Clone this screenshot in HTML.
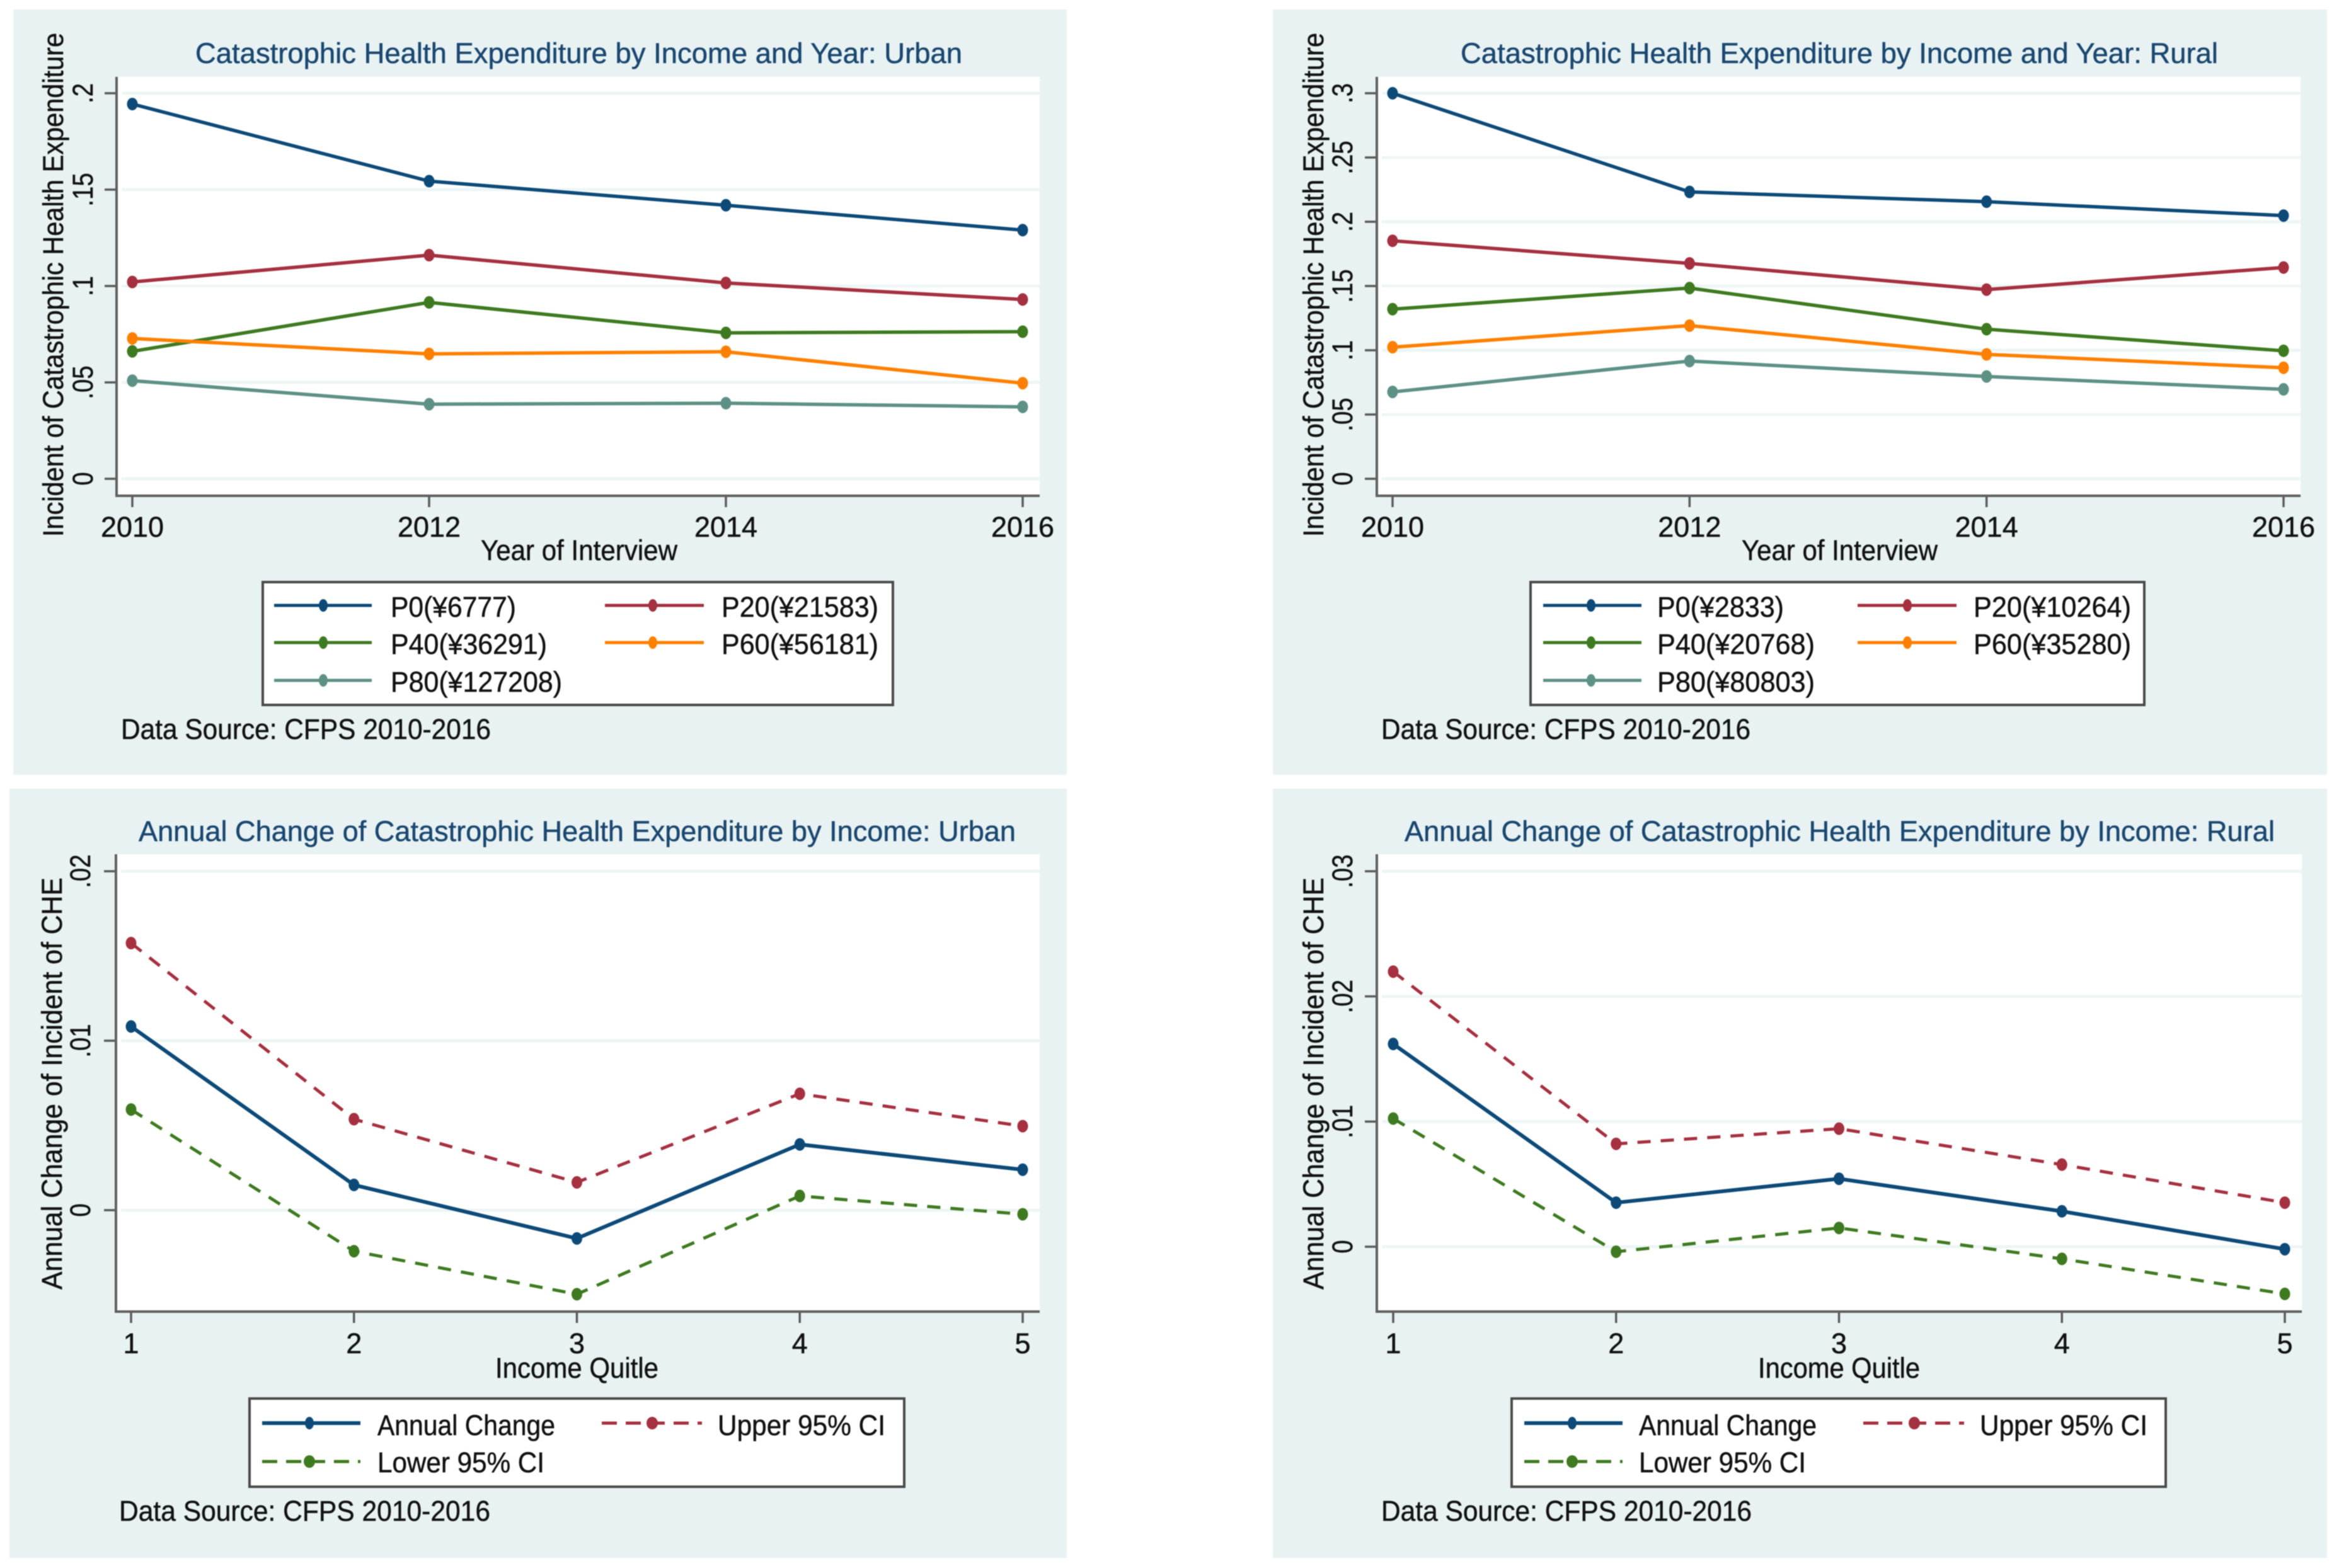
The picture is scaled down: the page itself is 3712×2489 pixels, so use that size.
<!DOCTYPE html>
<html lang="en">
<head>
<meta charset="utf-8">
<title>Catastrophic Health Expenditure by Income</title>
<style>
html,body{margin:0;padding:0;background:#fff;width:3712px;height:2489px;overflow:hidden}
svg{display:block;filter:blur(.7px)}
text{font-family:"Liberation Sans",Arial,sans-serif;font-size:45px;fill:#111;stroke:#111;stroke-width:.5px}
.title{fill:#1a476f;stroke:#1a476f}
.legend-box{fill:#fff;stroke:#4a4a4a;stroke-width:4}
.panel{fill:#e8f2f3}
.plot{fill:#fff}
</style>
</head>
<body>
<svg xmlns="http://www.w3.org/2000/svg" width="3712" height="2489" viewBox="0 0 3712 2489">
<rect width="3712" height="2489" fill="#fff"/>

<g id="urban-incidence">
  <rect class="panel" x="21" y="15" width="1672" height="1215"/>
  <rect class="plot" x="185" y="122" width="1465" height="665"/>
  <text class="title" x="310" y="100" textLength="1217" lengthAdjust="spacingAndGlyphs">Catastrophic Health Expenditure by Income and Year: Urban</text>
  <text transform="translate(100,852) rotate(-90)" textLength="800" lengthAdjust="spacingAndGlyphs">Incident of Catastrophic Health Expenditure</text>
  <text x="763" y="889" textLength="312" lengthAdjust="spacingAndGlyphs">Year of Interview</text>
  <g class="chart"></g>
  <g>
    <rect class="legend-box" x="417" y="924" width="1000" height="195"/>
    <g><line x1="435" x2="590" y1="961" y2="961" stroke="#0d4a78" stroke-width="5"/><ellipse cx="513" cy="961" rx="7" ry="10" fill="#0d4a78"/><text x="620" y="979" textLength="199" lengthAdjust="spacingAndGlyphs">P0(¥6777)</text></g>
    <g><line x1="960" x2="1117" y1="961" y2="961" stroke="#a5303f" stroke-width="5"/><ellipse cx="1036" cy="961" rx="7" ry="10" fill="#a5303f"/><text x="1145" y="979" textLength="249" lengthAdjust="spacingAndGlyphs">P20(¥21583)</text></g>
    <g><line x1="435" x2="590" y1="1020" y2="1020" stroke="#3e7a20" stroke-width="5"/><ellipse cx="513" cy="1020" rx="7" ry="10" fill="#3e7a20"/><text x="620" y="1038" textLength="248" lengthAdjust="spacingAndGlyphs">P40(¥36291)</text></g>
    <g><line x1="960" x2="1117" y1="1020" y2="1020" stroke="#ff8000" stroke-width="5"/><ellipse cx="1036" cy="1020" rx="7" ry="10" fill="#ff8000"/><text x="1145" y="1038" textLength="249" lengthAdjust="spacingAndGlyphs">P60(¥56181)</text></g>
    <g><line x1="435" x2="590" y1="1080" y2="1080" stroke="#5e9186" stroke-width="5"/><ellipse cx="513" cy="1080" rx="7" ry="10" fill="#5e9186"/><text x="620" y="1098" textLength="272" lengthAdjust="spacingAndGlyphs">P80(¥127208)</text></g>
  </g>
  <text x="192" y="1173" textLength="587" lengthAdjust="spacingAndGlyphs">Data Source: CFPS 2010-2016</text>
</g>

<g id="rural-incidence">
  <rect class="panel" x="2020" y="15" width="1673" height="1215"/>
  <rect class="plot" x="2185" y="122" width="1466" height="665"/>
  <text class="title" x="2318" y="100" textLength="1202" lengthAdjust="spacingAndGlyphs">Catastrophic Health Expenditure by Income and Year: Rural</text>
  <text transform="translate(2100,852) rotate(-90)" textLength="800" lengthAdjust="spacingAndGlyphs">Incident of Catastrophic Health Expenditure</text>
  <text x="2764" y="889" textLength="311" lengthAdjust="spacingAndGlyphs">Year of Interview</text>
  <g class="chart"></g>
  <g>
    <rect class="legend-box" x="2429" y="924" width="974" height="195"/>
    <g><line x1="2449" x2="2605" y1="961" y2="961" stroke="#0d4a78" stroke-width="5"/><ellipse cx="2525" cy="961" rx="7" ry="10" fill="#0d4a78"/><text x="2630" y="979" textLength="201" lengthAdjust="spacingAndGlyphs">P0(¥2833)</text></g>
    <g><line x1="2948" x2="3105" y1="961" y2="961" stroke="#a5303f" stroke-width="5"/><ellipse cx="3027" cy="961" rx="7" ry="10" fill="#a5303f"/><text x="3132" y="979" textLength="250" lengthAdjust="spacingAndGlyphs">P20(¥10264)</text></g>
    <g><line x1="2449" x2="2605" y1="1020" y2="1020" stroke="#3e7a20" stroke-width="5"/><ellipse cx="2525" cy="1020" rx="7" ry="10" fill="#3e7a20"/><text x="2630" y="1038" textLength="250" lengthAdjust="spacingAndGlyphs">P40(¥20768)</text></g>
    <g><line x1="2948" x2="3105" y1="1020" y2="1020" stroke="#ff8000" stroke-width="5"/><ellipse cx="3027" cy="1020" rx="7" ry="10" fill="#ff8000"/><text x="3132" y="1038" textLength="250" lengthAdjust="spacingAndGlyphs">P60(¥35280)</text></g>
    <g><line x1="2449" x2="2605" y1="1080" y2="1080" stroke="#5e9186" stroke-width="5"/><ellipse cx="2525" cy="1080" rx="7" ry="10" fill="#5e9186"/><text x="2630" y="1098" textLength="250" lengthAdjust="spacingAndGlyphs">P80(¥80803)</text></g>
  </g>
  <text x="2192" y="1173" textLength="586" lengthAdjust="spacingAndGlyphs">Data Source: CFPS 2010-2016</text>
</g>

<g id="urban-change">
  <rect class="panel" x="15" y="1252" width="1678" height="1221"/>
  <rect class="plot" x="184" y="1356" width="1466" height="726"/>
  <text class="title" x="220" y="1335" textLength="1392" lengthAdjust="spacingAndGlyphs">Annual Change of Catastrophic Health Expenditure by Income: Urban</text>
  <text transform="translate(98,2047) rotate(-90)" textLength="654" lengthAdjust="spacingAndGlyphs">Annual Change of Incident of CHE</text>
  <text x="786" y="2187" textLength="259" lengthAdjust="spacingAndGlyphs">Income Quitle</text>
  <g class="chart"></g>
  <g>
    <rect class="legend-box" x="396" y="2220" width="1039" height="140"/>
    <g><line x1="416" x2="572" y1="2259" y2="2259" stroke="#0d4a78" stroke-width="6"/><ellipse cx="491" cy="2259" rx="7" ry="10" fill="#0d4a78"/><text x="599" y="2278" textLength="282" lengthAdjust="spacingAndGlyphs">Annual Change</text></g>
    <g><line x1="955" x2="1114" y1="2259" y2="2259" stroke="#a5303f" stroke-width="5" stroke-dasharray="24 14"/><ellipse cx="1035" cy="2259" rx="9" ry="10" fill="#a5303f"/><text x="1139" y="2278" textLength="266" lengthAdjust="spacingAndGlyphs">Upper 95% CI</text></g>
    <g><line x1="416" x2="572" y1="2320" y2="2320" stroke="#3e7a20" stroke-width="5" stroke-dasharray="24 14"/><ellipse cx="491" cy="2320" rx="9" ry="10" fill="#3e7a20"/><text x="599" y="2337" textLength="265" lengthAdjust="spacingAndGlyphs">Lower 95% CI</text></g>
  </g>
  <text x="189" y="2414" textLength="589" lengthAdjust="spacingAndGlyphs">Data Source: CFPS 2010-2016</text>
</g>

<g id="rural-change">
  <rect class="panel" x="2020" y="1252" width="1673" height="1221"/>
  <rect class="plot" x="2185" y="1356" width="1468" height="726"/>
  <text class="title" x="2229" y="1335" textLength="1381" lengthAdjust="spacingAndGlyphs">Annual Change of Catastrophic Health Expenditure by Income: Rural</text>
  <text transform="translate(2100,2047) rotate(-90)" textLength="654" lengthAdjust="spacingAndGlyphs">Annual Change of Incident of CHE</text>
  <text x="2790" y="2187" textLength="257" lengthAdjust="spacingAndGlyphs">Income Quitle</text>
  <g class="chart"></g>
  <g>
    <rect class="legend-box" x="2399" y="2220" width="1038" height="140"/>
    <g><line x1="2419" x2="2575" y1="2259" y2="2259" stroke="#0d4a78" stroke-width="6"/><ellipse cx="2495" cy="2259" rx="7" ry="10" fill="#0d4a78"/><text x="2601" y="2278" textLength="282" lengthAdjust="spacingAndGlyphs">Annual Change</text></g>
    <g><line x1="2957" x2="3117" y1="2259" y2="2259" stroke="#a5303f" stroke-width="5" stroke-dasharray="24 14"/><ellipse cx="3038" cy="2259" rx="9" ry="10" fill="#a5303f"/><text x="3142" y="2278" textLength="266" lengthAdjust="spacingAndGlyphs">Upper 95% CI</text></g>
    <g><line x1="2419" x2="2575" y1="2320" y2="2320" stroke="#3e7a20" stroke-width="5" stroke-dasharray="24 14"/><ellipse cx="2495" cy="2320" rx="9" ry="10" fill="#3e7a20"/><text x="2601" y="2337" textLength="265" lengthAdjust="spacingAndGlyphs">Lower 95% CI</text></g>
  </g>
  <text x="2192" y="2414" textLength="588" lengthAdjust="spacingAndGlyphs">Data Source: CFPS 2010-2016</text>
</g>
</svg>

<script>
// Categories
const years = [2010, 2012, 2014, 2016];
const quintiles = [1, 2, 3, 4, 5];

// Urban incidence series
const urbanP0 = [0.1944, 0.1544, 0.1419, 0.1290];
const urbanP20 = [0.1021, 0.1160, 0.1016, 0.0930];
const urbanP40 = [0.0661, 0.0915, 0.0757, 0.0763];
const urbanP60 = [0.0728, 0.0648, 0.0659, 0.0496];
const urbanP80 = [0.0509, 0.0387, 0.0392, 0.0373];

// Rural incidence series
const ruralP0 = [0.3000, 0.2232, 0.2156, 0.2048];
const ruralP20 = [0.1852, 0.1676, 0.1472, 0.1644];
const ruralP40 = [0.1320, 0.1484, 0.1164, 0.0996];
const ruralP60 = [0.1024, 0.1192, 0.0968, 0.0864];
const ruralP80 = [0.0676, 0.0916, 0.0796, 0.0696];

// Urban annual change series
const urbanAnnual = [0.01084, 0.00149, -0.00167, 0.00388, 0.00239];
const urbanUpper = [0.01576, 0.00537, 0.00164, 0.00687, 0.00496];
const urbanLower = [0.00594, -0.00242, -0.00496, 0.00084, -0.00024];

// Rural annual change series
const ruralAnnual = [0.01620, 0.00352, 0.00543, 0.00283, -0.00020];
const ruralUpper = [0.02198, 0.00822, 0.00943, 0.00656, 0.00352];
const ruralLower = [0.01024, -0.00040, 0.00150, -0.00097, -0.00377];

// Tick values and labels
const urbanIncidenceTicks = [0, 0.05, 0.1, 0.15, 0.2];
const urbanIncidenceLabels = ['0', '.05', '.1', '.15', '.2'];
const ruralIncidenceTicks = [0, 0.05, 0.1, 0.15, 0.2, 0.25, 0.3];
const ruralIncidenceLabels = ['0', '.05', '.1', '.15', '.2', '.25', '.3'];
const urbanChangeTicks = [0, 0.01, 0.02];
const urbanChangeLabels = ['0', '.01', '.02'];
const ruralChangeTicks = [0, 0.01, 0.02, 0.03];
const ruralChangeLabels = ['0', '.01', '.02', '.03'];

const NS = 'http://www.w3.org/2000/svg';
const NAVY = '#0d4a78', RED = '#a5303f', GREEN = '#3e7a20', ORANGE = '#ff8000', TEAL = '#5e9186';

function node(parent, tag, attrs, content) {
  const n = document.createElementNS(NS, tag);
  for (const k in attrs) n.setAttribute(k, attrs[k]);
  if (content !== undefined) n.textContent = content;
  parent.appendChild(n);
  return n;
}

function linearScale(d0, d1, r0, r1) {
  return function (v) { return r0 + (v - d0) * (r1 - r0) / (d1 - d0); };
}

function drawAxes(g, frame, x, y, xCats, yTicks, yLabels) {
  yTicks.forEach(function (t, i) {
    const grid = node(g, 'line', {x1: frame.left + 8, x2: frame.right, y1: y(t), y2: y(t), stroke: '#edf5f6', 'stroke-width': 5});
    
    
    const tick = node(g, 'line', {x1: frame.left - 19, x2: frame.left, y1: y(t), y2: y(t), stroke: '#5a5a5a', 'stroke-width': 3.5});
    
    
    const label = node(g, 'text', {transform: 'translate(' + frame.yLabelX + ',' + y(t) + ') rotate(-90) scale(.85,1)', 'text-anchor': 'middle'}, yLabels[i]);
    
    
  });
  xCats.forEach(function (c) {
    const tick = node(g, 'line', {x1: x(c), x2: x(c), y1: frame.bottom, y2: frame.bottom + 18, stroke: '#5a5a5a', 'stroke-width': 3.5});
    
    
    const label = node(g, 'text', {x: x(c), y: frame.xLabelY, 'text-anchor': 'middle'}, String(c));
    
    
  });
  const yAxis = node(g, 'line', {x1: frame.left, x2: frame.left, y1: frame.top, y2: frame.bottom + 2, stroke: '#5f5f5f', 'stroke-width': 4});
  
  
  const xAxis = node(g, 'line', {x1: frame.left, x2: frame.right, y1: frame.bottom, y2: frame.bottom, stroke: '#5f5f5f', 'stroke-width': 4});
  
  
}

function drawSeries(g, name, cats, values, x, y, color, width, dash) {
  const pts = cats.map(function (c, i) { return x(c) + ',' + y(values[i]); }).join(' ');
  const attrs = {points: pts, fill: 'none', stroke: color, 'stroke-width': width, 'stroke-linejoin': 'round'};
  if (dash) attrs['stroke-dasharray'] = dash;
  const line = node(g, 'polyline', attrs);
  
  
  cats.forEach(function (c, i) {
    const pt = node(g, 'ellipse', {cx: x(c), cy: y(values[i]), rx: 8.5, ry: 10, fill: color});
    
    
  });
}

function renderPanel(id, frame, xCats, xDomain, xRange, yDomain, yRange, yTicks, yLabels, series) {
  const g = document.querySelector('#' + id + ' .chart');
  const x = linearScale(xDomain[0], xDomain[1], xRange[0], xRange[1]);
  const y = linearScale(yDomain[0], yDomain[1], yRange[0], yRange[1]);
  drawAxes(g, frame, x, y, xCats, yTicks, yLabels);
  series.forEach(function (s) {
    drawSeries(g, s.name, xCats, s.values, x, y, s.color, s.width, s.dash);
  });
}

renderPanel('urban-incidence',
  {left: 185, right: 1650, top: 122, bottom: 787, yLabelX: 147, xLabelY: 852},
  years, [2010, 2016], [210, 1623], [0, 0.2], [760, 148],
  urbanIncidenceTicks, urbanIncidenceLabels,
  [{name: 'p0', values: urbanP0, color: NAVY, width: 5.5},
   {name: 'p20', values: urbanP20, color: RED, width: 5.5},
   {name: 'p40', values: urbanP40, color: GREEN, width: 5.5},
   {name: 'p60', values: urbanP60, color: ORANGE, width: 5.5},
   {name: 'p80', values: urbanP80, color: TEAL, width: 5.5}]);

renderPanel('rural-incidence',
  {left: 2185, right: 3651, top: 122, bottom: 787, yLabelX: 2146, xLabelY: 852},
  years, [2010, 2016], [2210, 3624], [0, 0.3], [760, 148],
  ruralIncidenceTicks, ruralIncidenceLabels,
  [{name: 'p0', values: ruralP0, color: NAVY, width: 5.5},
   {name: 'p20', values: ruralP20, color: RED, width: 5.5},
   {name: 'p40', values: ruralP40, color: GREEN, width: 5.5},
   {name: 'p60', values: ruralP60, color: ORANGE, width: 5.5},
   {name: 'p80', values: ruralP80, color: TEAL, width: 5.5}]);

renderPanel('urban-change',
  {left: 184, right: 1650, top: 1356, bottom: 2082, yLabelX: 143, xLabelY: 2148},
  quintiles, [1, 5], [208, 1623], [0, 0.02], [1921, 1383],
  urbanChangeTicks, urbanChangeLabels,
  [{name: 'annual-change', values: urbanAnnual, color: NAVY, width: 6},
   {name: 'upper-ci', values: urbanUpper, color: RED, width: 5, dash: '21 16'},
   {name: 'lower-ci', values: urbanLower, color: GREEN, width: 5, dash: '21 16'}]);

renderPanel('rural-change',
  {left: 2185, right: 3653, top: 1356, bottom: 2082, yLabelX: 2146, xLabelY: 2148},
  quintiles, [1, 5], [2211, 3626], [0, 0.03], [1979, 1383],
  ruralChangeTicks, ruralChangeLabels,
  [{name: 'annual-change', values: ruralAnnual, color: NAVY, width: 6},
   {name: 'upper-ci', values: ruralUpper, color: RED, width: 5, dash: '21 16'},
   {name: 'lower-ci', values: ruralLower, color: GREEN, width: 5, dash: '21 16'}]);
</script>
</body>
</html>
